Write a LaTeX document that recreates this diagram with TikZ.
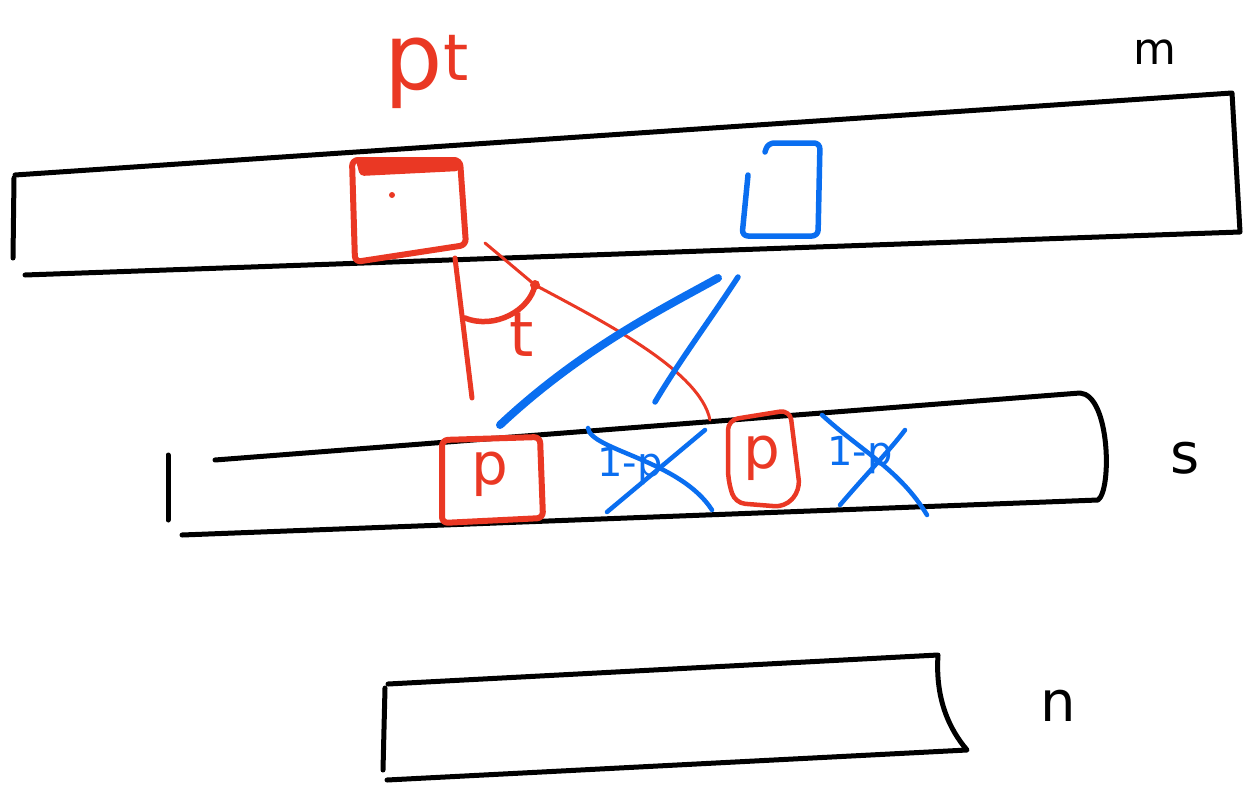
\documentclass[tikz,border=0pt]{standalone}
\usepackage{fontspec}
\setmainfont{DejaVu Sans}
\definecolor{sred}{RGB}{234,56,36}
\definecolor{sblue}{RGB}{10,110,240}
\tikzset{
  bar/.style={draw=black, line width=5pt, line cap=round, line join=round},
  redbox/.style={draw=sred, line width=6pt, line cap=round, line join=round, rounded corners=6pt},
  redline/.style={draw=sred, line width=3pt, line cap=round},
  blueline/.style={draw=sblue, line width=4.5pt, line cap=round},
  lbl/.style={font=\fontsize{56}{56}\selectfont},
  redlbl/.style={font=\fontsize{58}{58}\selectfont, text=sred},
  bluelbl/.style={font=\fontsize{40}{40}\selectfont, text=sblue}
}
\begin{document}
\begin{tikzpicture}[x=1pt,y=-1pt]
\useasboundingbox (0,0) rectangle (1246,784);
% top bar m
\draw[bar] (15,175) -- (1232,93) -- (1240,232) -- (25,275);
\draw[bar] (14,178) -- (13,258);
\node[font=\fontsize{44}{44}\selectfont] (m) at (1155,52) {m};
% red box p^t
\draw[redbox] (352,160) -- (460,160) -- (466,245) -- (355,262) -- cycle;
\fill[sred, rounded corners=4pt] (355,157) -- (458,157) -- (460,171) -- (360,176) -- cycle;
\coordinate (pt box) at (410,210);
\fill[sred] (392,195) circle (3);
\node[text=sred, font=\fontsize{92}{92}\selectfont] (pt) at (427,72) {p\textsuperscript{t}};
% blue box top
\draw[blueline, line width=5.5pt, line join=round, rounded corners=6pt] (765,152) -- (768,143) -- (820,143) -- (818,236) -- (742,236) -- (748,175);
% middle bar s
\draw[bar] (215,460) -- (1080,393) .. controls (1110,395) and (1112,490) .. (1098,500) -- (182,535);
\draw[bar] (168,455) -- (168,520);
\node[lbl] (s) at (1185,458) {s};
% bottom bar n
\draw[bar] (388,684) -- (938,655) .. controls (935,700) and (950,730) .. (967,750) -- (387,780);
\draw[bar] (385,688) -- (383,770);
\node[lbl] (n) at (1058,706) {n};
% red boxes p
\draw[redbox] (442,440) -- (540,437) -- (543,518) -- (442,523) -- cycle;
\node[redlbl] (p1) at (490,474) {p};
\draw[redbox, line width=4.5pt, rounded corners=10pt] (728,420) -- (790,410) -- (800,490) -- (785,507) -- (735,503) -- (728,480) -- cycle;
\node[redlbl] (p2) at (762,458) {p};
% red angle lines
\coordinate (a0) at (455,258);
\coordinate (a1) at (472,398);
\coordinate (b0) at (485,243);
\coordinate (bk) at (535,285);
\coordinate (b1) at (710,420);
\draw[redline, line width=5pt] (a0) -- (a1);
\draw[redline] (b0) -- (bk) .. controls (600,320) and (700,370) .. (b1);
\draw[redline, line width=5.5pt] (465,318) .. controls (495,330) and (530,310) .. (bk);
\fill[sred] (bk) circle (5);
\node[text=sred, font=\fontsize{62}{62}\selectfont] (t) at (522,335) {t};
% blue lines
\coordinate (c0) at (500,425);
\coordinate (c1) at (718,278);
\coordinate (d0) at (655,402);
\coordinate (d1) at (738,277);
\draw[blueline, line width=8pt] (c0) .. controls (580,350) and (660,310) .. (c1);
\draw[blueline, line width=5.5pt] (d0) .. controls (680,360) and (710,320) .. (d1);
% crossed 1-p
\node[bluelbl] (q1) at (630,466) {1-p};
\draw[blueline] (588,428) .. controls (590,450) and (680,460) .. (712,510);
\draw[blueline] (607,512) -- (705,430);
\node[bluelbl] (q2) at (860,455) {1-p};
\draw[blueline] (822,415) .. controls (860,450) and (900,470) .. (927,515);
\draw[blueline] (840,505) .. controls (870,470) and (890,450) .. (905,430);
\end{tikzpicture}
\end{document}
